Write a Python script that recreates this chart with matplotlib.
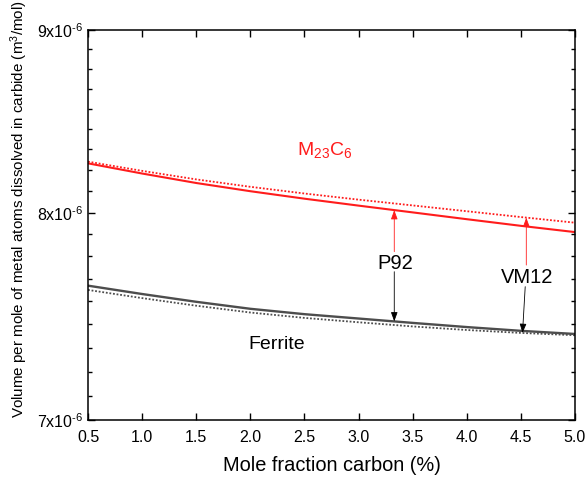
import numpy as np
import matplotlib
matplotlib.use("Agg")
import matplotlib.pyplot as plt
from matplotlib.ticker import FixedLocator, NullFormatter


# -----------------------------
# Data (molar volume of metal atoms in carbide, x1e-6 m^3/mol)
# -----------------------------
carbon_pct = [0.5, 1.0, 1.5, 2.0, 2.5, 3.0, 3.5, 4.0, 4.5, 5.0]

m23c6_p92  = [8.259, 8.205, 8.155, 8.112, 8.073, 8.037, 8.002, 7.967, 7.933, 7.901]
m23c6_vm12 = [8.268, 8.219, 8.174, 8.135, 8.100, 8.068, 8.038, 8.008, 7.978, 7.949]

ferrite_p92  = [7.633, 7.592, 7.554, 7.520, 7.494, 7.473, 7.452, 7.432, 7.414, 7.399]
ferrite_vm12 = [7.612, 7.572, 7.535, 7.502, 7.476, 7.455, 7.435, 7.418, 7.404, 7.393]

y_major = [7e-6, 8e-6, 9e-6]
y_major_labels = [r"$\mathregular{7x10^{\text{-}6}}$", r"$\mathregular{8x10^{\text{-}6}}$",
                  r"$\mathregular{9x10^{\text{-}6}}$"]
x_major = [0.5, 1.0, 1.5, 2.0, 2.5, 3.0, 3.5, 4.0, 4.5, 5.0]

SCALE = 1e-6


def curve_at(x, xs, ys):
    # log-interp since the y axis is logarithmic
    return np.exp(np.interp(x, xs, np.log(np.asarray(ys) * SCALE)))


plt.rcParams["font.family"] = ["Liberation Sans", "DejaVu Sans"]
plt.rcParams["mathtext.fontset"] = "custom"
plt.rcParams["mathtext.rm"] = "Liberation Sans"
plt.rcParams["mathtext.it"] = "Liberation Sans:italic"
plt.rcParams["mathtext.bf"] = "Liberation Sans:bold"

fig = plt.figure(figsize=(5.87, 4.78), dpi=100)
ax = fig.add_axes([88 / 587, 58 / 478, 487 / 587, 390 / 478])

x = np.array(carbon_pct)
red = "#ff1c1c"
grey = "#4d4d4d"

ax.plot(x, np.array(m23c6_p92) * SCALE, color=red, lw=1.5)
ax.plot(x, np.array(m23c6_vm12) * SCALE, color=red, lw=1.3, ls=(0, (1, 1)))
ax.plot(x, np.array(ferrite_p92) * SCALE, color=grey, lw=1.7)
ax.plot(x, np.array(ferrite_vm12) * SCALE, color=grey, lw=1.3, ls=(0, (1, 1)))

ax.set_yscale("log")
ax.set_xlim(0.5, 5.0)
ax.set_ylim(7e-6, 9e-6)

ax.yaxis.set_major_locator(FixedLocator(y_major))
ax.set_yticklabels(y_major_labels)
minor = [(7 + k / 9) * SCALE for k in range(1, 9)] + [(8 + k / 9) * SCALE for k in range(1, 9)]
ax.yaxis.set_minor_locator(FixedLocator(minor))
ax.yaxis.set_minor_formatter(NullFormatter())

ax.xaxis.set_major_locator(FixedLocator(x_major))
ax.set_xticklabels([f"{v:.1f}" for v in x_major])
ax.xaxis.set_minor_locator(FixedLocator([]))

ax.tick_params(axis="both", which="major", direction="in", length=5, width=1.0,
               labelsize=11.5, top=True, right=True)
ax.tick_params(axis="y", which="minor", direction="in", length=3, width=1.0, right=True)
ax.tick_params(axis="x", which="major", pad=7)
for s in ax.spines.values():
    s.set_linewidth(1.1)

ax.set_xlabel("Mole fraction carbon (%)", fontsize=14.4, labelpad=8)
ax.set_ylabel(r"Volume per mole of metal atoms dissolved in carbide (m$\mathregular{^3}$/mol)",
              fontsize=10.9)
ax.yaxis.set_label_coords(-58 / 487, 0.54)

# arrows pointing from the alloy labels to their curves
p92_x = 3.33
vm12_x = 4.55
arrow_red = dict(arrowstyle="-|>,head_length=0.55,head_width=0.2", color=red, lw=0.6,
                 shrinkA=0, shrinkB=0)
arrow_blk = dict(arrowstyle="-|>,head_length=0.55,head_width=0.2", color="black", lw=0.6,
                 shrinkA=0, shrinkB=0)

ax.annotate("", xy=(p92_x, curve_at(p92_x, x, m23c6_p92)), xytext=(p92_x, 7.802e-6),
            arrowprops=arrow_red)
ax.annotate("", xy=(p92_x, curve_at(p92_x, x, ferrite_p92)), xytext=(p92_x, 7.702e-6),
            arrowprops=arrow_blk)
ax.annotate("", xy=(vm12_x, curve_at(vm12_x, x, m23c6_vm12)), xytext=(vm12_x, 7.735e-6),
            arrowprops=arrow_red)
ax.annotate("", xy=(4.515, curve_at(4.515, x, ferrite_vm12)), xytext=(4.54, 7.628e-6),
            arrowprops=arrow_blk)

ax.text(3.34, 7.714e-6, "P92", fontsize=14.5, ha="center", va="baseline")
ax.text(4.555, 7.644e-6, "VM12", fontsize=14.5, ha="center", va="baseline")
ax.text(2.432, 8.303e-6, r"$\mathregular{M_{23}C_6}$", fontsize=14, color=red,
        ha="left", va="baseline")
ax.text(1.979, 7.328e-6, "Ferrite", fontsize=14, ha="left", va="baseline")

fig.savefig("out.png", dpi=100)
